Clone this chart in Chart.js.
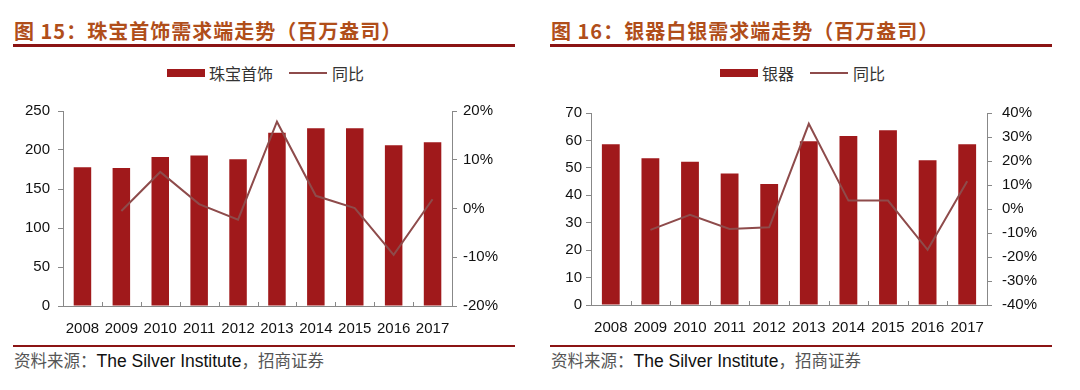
<!DOCTYPE html>
<html>
<head>
<meta charset="utf-8">
<script src="https://cdn.jsdelivr.net/npm/chart.js@4"></script>
<style>
  body { margin: 0; background: #fff; width: 1080px; height: 390px; position: relative; overflow: hidden; }
  .title { position: absolute; top: 18px; font: bold 20px "Noto Sans CJK SC", sans-serif; color: #B04E1A; letter-spacing: 1px; white-space: nowrap; line-height: 26px; }
  .rule { position: absolute; height: 3px; background: #8B1414; }
  .rule.thin { height: 2px; }
  .legend { position: absolute; top: 59px; font: 16px "Noto Sans CJK SC", sans-serif; color: #333; white-space: nowrap; line-height: 22px; }
  .legend span { display: inline-block; vertical-align: middle; }
  .box { width: 38px; height: 8px; background: #A0191B; margin-right: 4px; }
  .ln { width: 38px; height: 2px; background: #8E4B4B; margin-left: 16px; margin-right: 5px; }
  .src { position: absolute; top: 348px; font: 16.5px "Noto Sans CJK SC", serif; color: #555; white-space: nowrap; line-height: 24px; }
  .src b { font: normal 17.5px "Liberation Sans", Arial, sans-serif; color: #111; }
  canvas { position: absolute; top: 94px; }
</style>
</head>
<body>
<div class="title" style="left:14px">图 15：珠宝首饰需求端走势（百万盎司）</div>
<div class="rule" style="left:13px;width:502px;top:44px"></div>
<div class="legend" style="left:167px"><span class="box"></span><span>珠宝首饰</span><span class="ln"></span><span>同比</span></div>
<canvas id="c1" width="540" height="246" style="left:0"></canvas>
<div class="rule thin" style="left:13px;width:502px;top:345px"></div>
<div class="src" style="left:14px">资料来源：<b>The Silver Institute</b>，招商证券</div>

<div class="title" style="left:551px">图 16：银器白银需求端走势（百万盎司）</div>
<div class="rule" style="left:550px;width:502px;top:44px"></div>
<div class="legend" style="left:720px"><span class="box"></span><span>银器</span><span class="ln"></span><span>同比</span></div>
<canvas id="c2" width="540" height="246" style="left:540px"></canvas>
<div class="rule thin" style="left:550px;width:502px;top:345px"></div>
<div class="src" style="left:551px">资料来源：<b>The Silver Institute</b>，招商证券</div>

<script>
const years = ['2008', '2009', '2010', '2011', '2012', '2013', '2014', '2015', '2016', '2017'];

// 珠宝首饰 (百万盎司) and 同比 (%)
const jewelry = [178, 177, 191, 193, 188, 222, 228, 228, 206, 210];
const jewelryYoy = [null, -0.5, 7.5, 0.9, -2.3, 17.8, 2.6, 0.1, -9.5, 1.9];

// 银器 (百万盎司) and 同比 (%)
const silverware = [58.6, 53.5, 52.2, 47.9, 44.1, 59.7, 61.6, 63.7, 52.8, 58.6];
const silverwareYoy = [null, -8.7, -2.4, -8.3, -7.6, 35.5, 3.5, 3.5, -17.0, 11.6];

const BAR = '#A0191B';
const LINE = '#8E4B4B';
const AXIS = '#888';
const tickFont = { family: '"Liberation Sans", Arial, sans-serif', size: 15 };

// small ticks between categories, pointing up into the plot
const innerTicks = {
  id: 'innerTicks',
  afterDraw(chart) {
    const x = chart.scales.x;
    const bottom = chart.chartArea.bottom;
    const ctx = chart.ctx;
    ctx.save();
    ctx.strokeStyle = AXIS;
    ctx.lineWidth = 1;
    for (let i = 1; i < years.length; i++) {
      const px = Math.round((x.getPixelForValue(i - 1) + x.getPixelForValue(i)) / 2) + 0.5;
      ctx.beginPath();
      ctx.moveTo(px, bottom);
      ctx.lineTo(px, bottom - 4);
      ctx.stroke();
    }
    ctx.restore();
  },
};

function makeChart(id, label, bars, yoy, opt) {
  return new Chart(id, {
    type: 'bar',
    data: {
      labels: years,
      datasets: [
        {
          label: label,
          data: bars,
          backgroundColor: BAR,
          categoryPercentage: 1,
          barPercentage: 0.45,
          yAxisID: 'y',
          order: 1,
        },
        {
          type: 'line',
          label: '同比',
          data: yoy,
          borderColor: LINE,
          borderWidth: 2,
          pointRadius: 0,
          tension: 0,
          yAxisID: 'y1',
          order: 0,
        },
      ],
    },
    options: {
      responsive: false,
      animation: false,
      layout: { padding: { top: 3, bottom: 0, left: 0, right: 0 } },
      plugins: { legend: { display: false }, tooltip: { enabled: false } },
      scales: {
        x: {
          grid: { display: false },
          border: { display: true, color: AXIS },
          ticks: { color: '#111', font: tickFont, padding: 6, maxRotation: 0 },
          afterFit: (s) => { s.height = opt.xHeight; },
        },
        y: {
          position: 'left',
          min: 0,
          max: opt.yMax,
          ticks: { stepSize: opt.yStep, color: '#111', font: tickFont, padding: opt.leftPad },
          grid: { display: true, drawOnChartArea: false, drawTicks: true, tickLength: 5, color: AXIS },
          border: { display: true, color: AXIS },
          afterFit: (s) => { s.width = opt.leftW; },
        },
        y1: {
          position: 'right',
          min: opt.pMin,
          max: opt.pMax,
          ticks: { stepSize: opt.pStep, color: '#111', font: tickFont, padding: opt.rightPad, callback: (v) => v + '%' },
          grid: { display: true, drawOnChartArea: false, drawTicks: true, tickLength: 5, color: AXIS },
          border: { display: true, color: AXIS },
          afterFit: (s) => { s.width = opt.rightW; },
        },
      },
    },
    plugins: [innerTicks],
  });
}

makeChart('c1', '珠宝首饰', jewelry, jewelryYoy, {
  yMax: 250, yStep: 50, pMin: -20, pMax: 20, pStep: 10,
  leftW: 63, rightW: 88, leftPad: 8, rightPad: 6, xHeight: 34,
});
makeChart('c2', '银器', silverware, silverwareYoy, {
  yMax: 70, yStep: 10, pMin: -40, pMax: 40, pStep: 10,
  leftW: 51, rightW: 93, leftPad: 4, rightPad: 10, xHeight: 35,
});
</script>
</body>
</html>
